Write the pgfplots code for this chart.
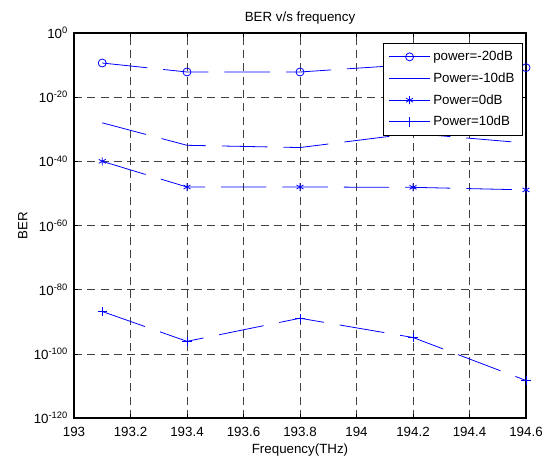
\documentclass[border=0pt]{standalone}
\usepackage{fontspec}
\setmainfont{Liberation Sans}
\usepackage{pgfplots}
\pgfplotsset{compat=1.18}
\usetikzlibrary{calc}
\definecolor{mblue}{RGB}{0,0,255}
\begin{document}
\begin{tikzpicture}
\begin{axis}[
  name=ax,
  scale only axis,
  width=339pt, height=288.75pt,
  xmin=193, xmax=194.6,
  ymode=log, ymin=1e-120, ymax=1,
  xtick={193,193.2,193.4,193.6,193.8,194,194.2,194.4,194.6},
  xticklabels={193,193.2,193.4,193.6,193.8,194,194.2,194.4,194.6},
  ytick={1e-120,1e-100,1e-80,1e-60,1e-40,1e-20,1},
  yticklabels={10\textsuperscript{-120},10\textsuperscript{-100},10\textsuperscript{-80},10\textsuperscript{-60},10\textsuperscript{-40},10\textsuperscript{-20},10\textsuperscript{0}},
  minor ytick={},
  yminorticks=false,
  tick align=inside,
  major tick length=3pt,
  tick style={black, line width=0.5pt},
  axis line style={black, line width=0.8pt},
  grid=major,
  major grid style={black!75, line width=0.5pt, dash pattern=on 6pt off 4pt},
  ticklabel style={font=\fontsize{10}{12}\selectfont},
  xticklabel style={yshift=-3pt},
  yticklabel style={xshift=-1pt},
  title={BER v/s frequency},
  title style={font=\fontsize{10}{12}\selectfont, at={(0.5,1)}, anchor=south, yshift=-3pt},
  xlabel={Frequency(THz)},
  ylabel={BER},
  label style={font=\fontsize{10}{12}\selectfont},
  xlabel style={yshift=1pt},
  ylabel style={yshift=-2pt},
  every axis plot/.append style={mblue, line width=0.6pt, dash pattern=on 34pt off 12pt, mark options={solid, mblue}},
  legend image code/.code={%
    \draw[mblue, solid, line width=0.8pt] (0cm,0cm) -- (1.08cm,0cm);
    \draw[#1, solid] plot[only marks] coordinates {(0.54cm,0cm)};},
  legend style={at={(rel axis cs:0.993,0.975)}, anchor=north east, draw=black, line width=0.6pt, font=\fontsize{10}{12}\selectfont, row sep=3.5pt, inner sep=4pt, cells={anchor=west}},
]
\addplot[mark=o, mark size=3pt] coordinates {(193.1,4.47e-10) (193.4,7.08e-13) (193.8,7.08e-13) (194.2,1.58e-10) (194.6,1.58e-11)};
\addlegendentry{power=-20dB}
\addplot[mark=none] coordinates {(193.1,1e-28) (193.4,1e-35) (193.8,2.0e-36) (194.2,5.01e-32) (194.6,5.01e-35)};
\addlegendentry{Power=-10dB}
\addplot[mark=asterisk, mark size=3pt] coordinates {(193.1,1e-40) (193.4,1e-48) (193.8,1e-48) (194.2,7.94e-49) (194.6,1.26e-49)};
\addlegendentry{Power=0dB}
\addplot[mark=+, mark size=3.5pt] coordinates {(193.1,1.58e-87) (193.4,7.94e-97) (193.8,1.26e-89) (194.2,1.26e-95) (194.6,5.01e-109)};
\addlegendentry{Power=10dB}
\end{axis}
\pgfresetboundingbox
\useasboundingbox ($(ax.south west)+(-55.5pt,-30.75pt)$) rectangle ($(ax.north east)+(13.5pt,24.75pt)$);
\end{tikzpicture}
\end{document}
